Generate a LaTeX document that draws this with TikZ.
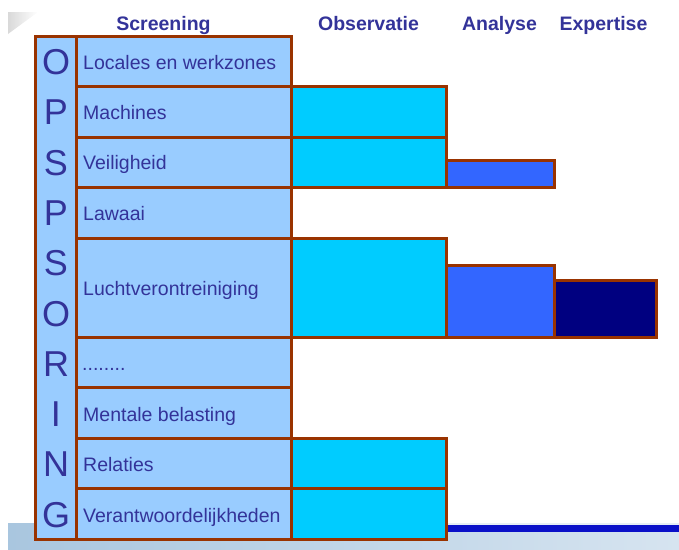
\documentclass[tikz,border=0pt]{standalone}
\usepackage{fontspec}
\setmainfont{Liberation Sans}
\definecolor{frame}{HTML}{993300}
\definecolor{cellblue}{HTML}{99CCFF}
\definecolor{obs}{HTML}{00CCFF}
\definecolor{ana}{HTML}{3366FF}
\definecolor{expc}{HTML}{000080}
\definecolor{ink}{HTML}{333399}
\definecolor{stripa}{HTML}{A9C6DF}
\definecolor{stripb}{HTML}{D6E4F0}
\definecolor{rule}{HTML}{0A10C8}
\begin{document}
\begin{tikzpicture}[x=1pt,y=-1pt,
  cellbox/.style={draw=frame,line width=3pt,fill=cellblue},
  obsbox/.style={draw=frame,line width=3pt,fill=obs},
  anabox/.style={draw=frame,line width=3pt,fill=ana},
  expbox/.style={draw=frame,line width=3pt,fill=expc},
  head/.style={text=ink,font=\fontsize{19.5}{23}\bfseries\selectfont,anchor=base,inner sep=0pt},
  lbl/.style={text=ink,font=\fontsize{19.5}{23}\selectfont,anchor=base west,inner sep=0pt},
  letter/.style={text=ink,font=\fontsize{36}{40}\selectfont,anchor=base,inner sep=0pt}]
\useasboundingbox (0,0) rectangle (679,549);

% slide background remnants
\shade[left color=stripa,right color=stripb] (8,523) rectangle (679,549);
\fill[white!70!stripa] (447,522.5) rectangle (679,525);
\fill[rule] (447,525) rectangle (679,532);
\shade[left color=gray!30,right color=white] (8,12) -- (38,12) -- (8,34) -- cycle;

% row boundaries
\def\ya{36.5}\def\yb{86.5}\def\yc{137}\def\yd{187.3}\def\ye{238}
\def\yf{337.5}\def\yg{387.8}\def\yh{438}\def\yi{488.5}\def\yj{539.5}

% bars: observation, analysis, expertise
\draw[obsbox] (291,\yb) rectangle (446.5,\yc);
\draw[obsbox] (291,\yc) rectangle (446.5,\yd);
\draw[anabox] (446.5,160) rectangle (554,\yd);
\draw[obsbox] (291,\ye) rectangle (446.5,\yf);
\draw[anabox] (446.5,265) rectangle (554,\yf);
\draw[expbox] (554,280.5) rectangle (656.5,\yf);
\draw[obsbox] (291,\yh) rectangle (446.5,\yi);
\draw[obsbox] (291,\yi) rectangle (446.5,\yj);

% screening column
\foreach \t/\b in {\ya/\yb,\yb/\yc,\yc/\yd,\yd/\ye,\ye/\yf,\yf/\yg,\yg/\yh,\yh/\yi,\yi/\yj}
  \draw[cellbox] (76.5,\t) rectangle (291,\b);

% letter column
\draw[cellbox] (35,\ya) rectangle (76.5,\yj);

% column headings
\node[head] (hscr) at (163.5,30) {Screening};
\node[head] (hobs) at (368.5,30) {Observatie};
\node[head] (hana) at (499.5,30) {Analyse};
\node[head] (hexp) at (603.5,30) {Expertise};

% row labels
\node[lbl] (l1) at (83,69.5) {Locales en werkzones};
\node[lbl] (l2) at (83,119.5) {Machines};
\node[lbl] (l3) at (83,169) {Veiligheid};
\node[lbl] (l4) at (83,220.5) {Lawaai};
\node[lbl] (l5) at (83,295) {Luchtverontreiniging};
\node[lbl] (l6) at (82,370) {........};
\node[lbl] (l7) at (83,421) {Mentale belasting};
\node[lbl] (l8) at (83,471) {Relaties};
\node[lbl] (l9) at (83,522) {Verantwoordelijkheden};

% vertical word
\foreach \c [count=\i from 0] in {O,P,S,P,S,O,R,I,N,G}
  \node[letter] (c\i) at (56,{74.5+50.3*\i}) {\c};
\end{tikzpicture}
\end{document}
